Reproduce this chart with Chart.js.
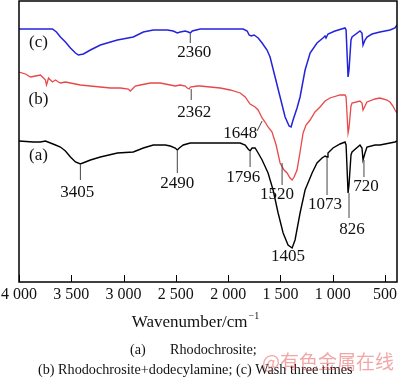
<!DOCTYPE html>
<html><head><meta charset="utf-8">
<script src="https://cdn.jsdelivr.net/npm/chart.js@4.4.0/dist/chart.umd.min.js"></script>
<style>html,body{margin:0;padding:0;background:#fff;}#wrap{width:400px;height:380px;}</style>
</head><body><div id="wrap"><canvas id="c" width="400" height="380" style="width:400px;height:380px"></canvas></div>
<script>
// ---- tick labels ----
const xTickValues = [4000, 3500, 3000, 2500, 2000, 1500, 1000, 500];
const xTickLabels = ['4 000', '3 500', '3 000', '2 500', '2 000', '1 500', '1 000', '500'];

// ---- (c) Wash three times (blue) ----
const cWavenumber = [4000,3680,3642,3604,3556,3508,3460,3432,3384,3317,3222,3059,2907,2811,2716,2582,2525,2486,2458,2410,2381,2362,2343,2267,1856,1818,1799,1780,1751,1713,1675,1628,1599,1551,1503,1455,1417,1398,1379,1341,1312,1264,1216,1150,1093,1073,1064,1045,978,882,872,853,844,825,815,739,720,710,691,672,624,548,452,404,385];
const cSignal = [253,253,250,245,240,234,229,227,228,232,237,242,245,250,252,252,251,249,250,251,250,249,251,253,253,251,247,246,247,244,239,232,225,205,185,165,156,155,162,174,185,212,229,239,244,246,244,248,251,254,252,205,212,242,245,251,249,237,242,245,248,250,252,254,257];

// ---- (b) Rhodochrosite + dodecylamine (red) ----
const bWavenumber = [4000,3938,3890,3842,3795,3766,3747,3737,3728,3718,3699,3680,3651,3623,3604,3556,3508,3413,3317,3222,3126,3031,2954,2935,2916,2888,2840,2744,2649,2553,2506,2458,2410,2391,2372,2362,2296,2267,2171,2076,1980,1885,1837,1790,1742,1713,1675,1647,1618,1580,1541,1503,1465,1436,1408,1388,1369,1341,1312,1283,1255,1216,1169,1121,1073,1026,930,882,872,853,844,825,815,739,720,710,691,672,595,548,481,452,424,404,385];
const bSignal = [210,208,205,206,207,204,202,197,200,204,202,200,202,200,199,200,199,197,196,195,194,194,193,191,193,196,197,199,199,197,196,197,196,194,193,195,196,196,195,194,192,189,185,178,175,172,164,160,155,150,137,119,112,109,104,102,105,112,130,149,157,162,170,175,181,184,187,187,185,149,154,176,179,181,179,172,176,180,183,184,182,180,176,172,169];

// ---- (a) Rhodochrosite (black) ----
const aWavenumber = [4000,3862,3795,3747,3699,3651,3604,3556,3508,3460,3413,3365,3317,3222,3059,2907,2811,2716,2601,2553,2506,2486,2467,2429,2362,2267,2076,1885,1837,1809,1790,1771,1742,1713,1675,1618,1570,1522,1474,1427,1388,1360,1312,1264,1197,1150,1102,1073,1054,1045,997,930,882,872,853,844,825,815,739,720,710,691,672,595,548,452,404,385];
const aSignal = [141,140,140,141,139,137,135,131,125,120,118,120,122,125,129,130,134,137,137,136,134,132,134,137,139,139,139,139,137,133,131,134,134,129,122,109,92,69,49,37,34,42,69,92,109,119,124,126,125,129,134,138,140,137,89,97,127,130,137,134,122,129,135,137,137,139,140,141];

const toXY = (xs, ys) => xs.map((x, i) => ({x: x, y: ys[i]}));

// ---- annotations (peak labels), in data units ----
const peakLabels = [
  {text:'2360', lx1:2362, ly1:248, lx2:2362, ly2:239, tx:2324, ty:229},
  {text:'2362', lx1:2353, ly1:193, lx2:2353, ly2:182, tx:2324, ty:169},
  {text:'1648', lx1:1675, ly1:161, lx2:1723, ly2:151, tx:1885, ty:148},
  {text:'3405', lx1:3413, ly1:117, lx2:3413, ly2:102, tx:3442, ty:89},
  {text:'2490', lx1:2486, ly1:131, lx2:2486, ly2:109, tx:2486, ty:98},
  {text:'1796', lx1:1790, ly1:130, lx2:1790, ly2:115, tx:1856, ty:104},
  {text:'1520', lx1:1484, ly1:119, lx2:1484, ly2:97, tx:1532, ty:87},
  {text:'1073', lx1:1054, ly1:125, lx2:1054, ly2:87, tx:1073, ty:77},
  {text:'826', lx1:844, ly1:89, lx2:844, ly2:64, tx:815, ty:52},
  {text:'720', lx1:701, ly1:122, lx2:701, ly2:105, tx:682, ty:95},
  {text:'1405', tx:1427, ty:25},
  {text:'(c)', tx:3814, ty:239},
  {text:'(b)', tx:3814, ty:182},
  {text:'(a)', tx:3814, ty:126}
];

const serif = '"Liberation Serif", "Times New Roman", serif';

const decorPlugin = {
  id: 'decor',
  afterDatasetsDraw(chart) {
    const {ctx, chartArea: a, scales: {x, y}} = chart;
    ctx.save();
    // frame
    ctx.strokeStyle = '#000';
    ctx.lineWidth = 1.5;
    ctx.strokeRect(a.left, a.top, a.right - a.left, a.bottom - a.top);
    // inward ticks
    ctx.lineWidth = 1;
    ctx.beginPath();
    xTickValues.forEach(v => {
      const px = Math.round(x.getPixelForValue(v)) + 0.5;
      ctx.moveTo(px, a.bottom);
      ctx.lineTo(px, a.bottom - 7);
    });
    ctx.stroke();
    // peak labels
    ctx.strokeStyle = '#444';
    ctx.lineWidth = 1;
    ctx.fillStyle = '#111';
    ctx.font = '17px ' + serif;
    ctx.textAlign = 'center';
    ctx.textBaseline = 'middle';
    peakLabels.forEach(p => {
      if (p.lx1 !== undefined) {
        ctx.beginPath();
        ctx.moveTo(x.getPixelForValue(p.lx1), y.getPixelForValue(p.ly1));
        ctx.lineTo(x.getPixelForValue(p.lx2), y.getPixelForValue(p.ly2));
        ctx.stroke();
      }
      ctx.fillText(p.text, x.getPixelForValue(p.tx), y.getPixelForValue(p.ty));
    });
    ctx.restore();
  },
  afterDraw(chart) {
    const {ctx} = chart;
    ctx.save();
    ctx.fillStyle = '#111';
    ctx.textBaseline = 'middle';
    // axis title with superscript
    const main = 'Wavenumber/cm';
    ctx.font = '10px ' + serif;
    const supW = ctx.measureText('\u22121').width;
    ctx.font = '17px ' + serif;
    const mainW = ctx.measureText(main).width;
    const startX = 195 - (mainW + supW) / 2;
    ctx.textAlign = 'left';
    ctx.fillText(main, startX, 323);
    ctx.font = '10px ' + serif;
    ctx.fillText('\u22121', startX + mainW + 1, 316);
    // captions
    ctx.font = '14.2px ' + serif;
    ctx.fillText('(a)', 130, 350);
    ctx.fillText('Rhodochrosite;', 170, 350);
    ctx.fillText('(b) Rhodochrosite+dodecylamine; (c) Wash three times', 38, 370);
    // watermark
    ctx.font = '19px "Noto Sans CJK SC", sans-serif';
    ctx.fillStyle = 'rgba(228, 80, 80, 0.5)';
    ctx.fillText('@有色金属在线', 262, 362);
    ctx.restore();
  }
};

new Chart(document.getElementById('c'), {
  type: 'line',
  data: {
    datasets: [
      {label: '(c)', data: toXY(cWavenumber, cSignal), borderColor: '#2323dc', borderWidth: 1.5, pointRadius: 0, tension: 0},
      {label: '(b)', data: toXY(bWavenumber, bSignal), borderColor: '#e8484a', borderWidth: 1.3, pointRadius: 0, tension: 0},
      {label: '(a)', data: toXY(aWavenumber, aSignal), borderColor: '#000000', borderWidth: 1.4, pointRadius: 0, tension: 0}
    ]
  },
  options: {
    responsive: false,
    animation: false,
    devicePixelRatio: 1,
    layout: {padding: {left: 19, right: 3, top: 1, bottom: 0}},
    plugins: {legend: {display: false}, tooltip: {enabled: false}},
    scales: {
      x: {
        type: 'linear',
        reverse: true,
        min: 385,
        max: 4000,
        grid: {display: false, drawTicks: false},
        border: {display: false},
        afterBuildTicks: s => { s.ticks = xTickValues.map(v => ({value: v})); },
        afterFit: s => { s.height = 98; s.paddingLeft = 0; s.paddingRight = 0; },
        ticks: {
          autoSkip: false,
          maxRotation: 0,
          padding: 3,
          color: '#111',
          font: {family: serif, size: 16},
          callback: v => xTickLabels[xTickValues.indexOf(v)]
        }
      },
      y: {
        type: 'linear',
        display: false,
        min: 0,
        max: 281
      }
    }
  },
  plugins: [decorPlugin]
});
</script>
</body></html>
